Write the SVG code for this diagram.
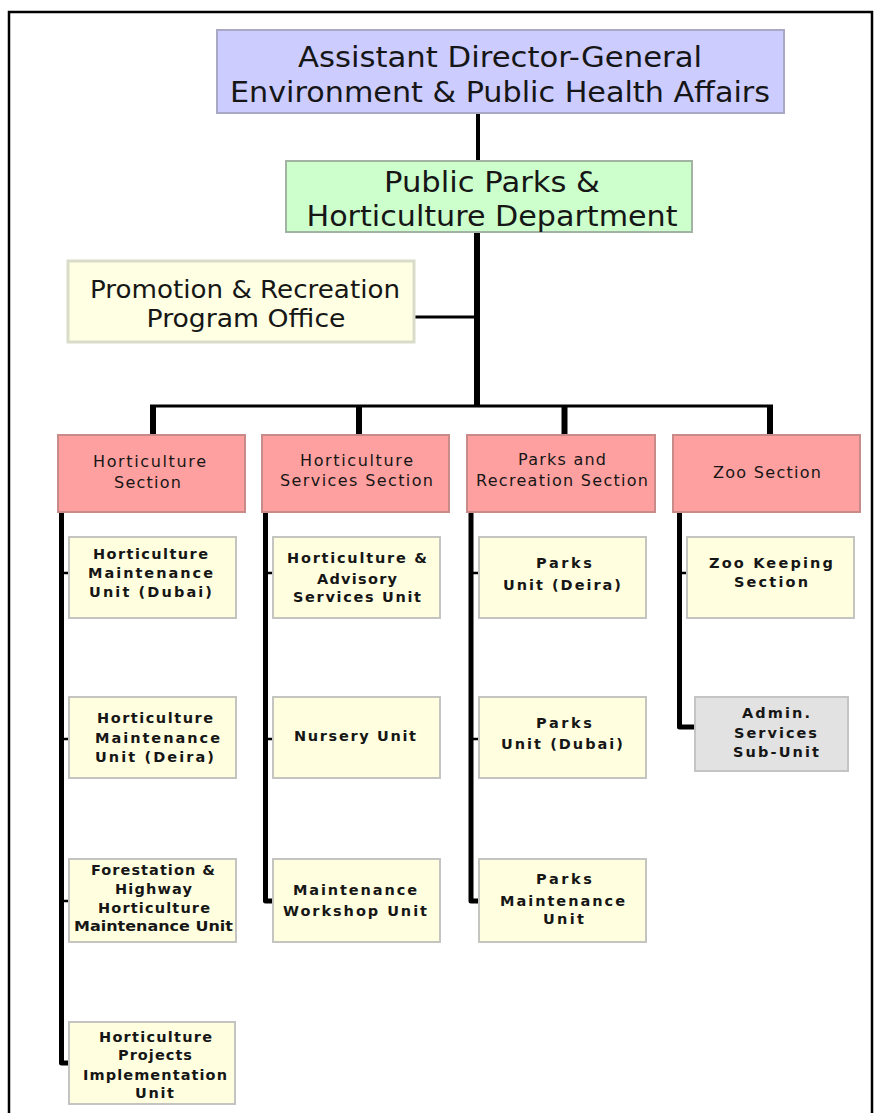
<svg xmlns="http://www.w3.org/2000/svg" width="875" height="1113" viewBox="0 0 875 1113">
<style>
text{font-family:"DejaVu Sans","Liberation Sans",sans-serif;fill:#161616;text-anchor:middle}
.big{font-size:29px}
.mid{font-size:25px}
.sec{font-size:16px}
.unit{font-size:14.5px;font-weight:bold}
.blue{fill:#ccccff;stroke:#a9a9c6;stroke-width:2}
.green{fill:#ccffcc;stroke:#a3b3a3;stroke-width:2}
.prom{fill:#ffffe3;stroke:#d9dcc8;stroke-width:3}
.pink{fill:#ffa0a0;stroke:#c98a8a;stroke-width:2}
.yel{fill:#ffffe0;stroke:#c4c4c0;stroke-width:2}
.gray{fill:#e2e2e2;stroke:#c4c4c4;stroke-width:2}
.ln{fill:none;stroke:#000;stroke-linejoin:round}
</style>
<rect x="9" y="12" width="863" height="1120" fill="#fff" stroke="#000" stroke-width="2.5"/>
<g id="connectors">
<line class="ln" x1="478" y1="112" x2="478" y2="161" stroke-width="4"/>
<line class="ln" x1="477" y1="232" x2="477" y2="407" stroke-width="6"/>
<line class="ln" x1="414" y1="317" x2="477" y2="317" stroke-width="3"/>
<line class="ln" x1="150" y1="406" x2="773" y2="406" stroke-width="3"/>
<line class="ln" x1="153" y1="406" x2="153" y2="435" stroke-width="6"/>
<line class="ln" x1="359" y1="406" x2="359" y2="435" stroke-width="6"/>
<line class="ln" x1="564.5" y1="406" x2="564.5" y2="435" stroke-width="6"/>
<line class="ln" x1="770" y1="406" x2="770" y2="435" stroke-width="6"/>
<path class="ln" d="M61.5 512 V1063 H70" stroke-width="5"/>
<path class="ln" d="M265.5 512 V901 H273" stroke-width="5"/>
<path class="ln" d="M471 512 V901 H479" stroke-width="5"/>
<path class="ln" d="M679.5 512 V727 H695" stroke-width="5"/>
<path class="ln" d="M61.5 573 H69 M61.5 739 H69 M61.5 901 H69 M265.5 573 H273 M265.5 739 H273 M471 573 H479 M471 739 H479 M679.5 573 H687" stroke-width="2.5"/>
</g>
<g id="adg">
<rect class="blue" x="217" y="30" width="567" height="83"/>
<text class="big" x="500" y="67" textLength="404" lengthAdjust="spacingAndGlyphs">Assistant Director-General</text>
<text class="big" x="500" y="102" textLength="540" lengthAdjust="spacingAndGlyphs">Environment &amp; Public Health Affairs</text>
</g>
<g id="dept">
<rect class="green" x="286" y="161" width="406" height="71"/>
<text class="big" x="492" y="192" textLength="216" lengthAdjust="spacingAndGlyphs">Public Parks &amp;</text>
<text class="big" x="492" y="226" textLength="371" lengthAdjust="spacingAndGlyphs">Horticulture Department</text>
</g>
<g id="promo">
<rect class="prom" x="68" y="261" width="346" height="81"/>
<text class="mid" x="245" y="298" textLength="310" lengthAdjust="spacingAndGlyphs">Promotion &amp; Recreation</text>
<text class="mid" x="246" y="327" textLength="199" lengthAdjust="spacingAndGlyphs">Program Office</text>
</g>
<g id="sec-hort">
<rect class="pink" x="58" y="435" width="187" height="77"/>
<text class="sec" x="149.5" y="467" textLength="113">Horticulture</text>
<text class="sec" x="147.5" y="488" textLength="67">Section</text>
</g>
<g id="sec-hortserv">
<rect class="pink" x="262" y="435" width="187" height="77"/>
<text class="sec" x="356.5" y="466" textLength="113">Horticulture</text>
<text class="sec" x="356.5" y="486" textLength="153">Services Section</text>
</g>
<g id="sec-parks">
<rect class="pink" x="467" y="435" width="188" height="77"/>
<text class="sec" x="562" y="465" textLength="88">Parks and</text>
<text class="sec" x="562" y="486" textLength="172">Recreation Section</text>
</g>
<g id="sec-zoo">
<rect class="pink" x="673" y="435" width="187" height="77"/>
<text class="sec" x="767" y="478" textLength="108">Zoo Section</text>
</g>
<g id="u-hmu-dubai">
<rect class="yel" x="69" y="537" width="167" height="81"/>
<text class="unit" x="150.5" y="559" textLength="115">Horticulture</text>
<text class="unit" x="150.5" y="578" textLength="125">Maintenance</text>
<text class="unit" x="150.5" y="597" textLength="123">Unit (Dubai)</text>
</g>
<g id="u-hmu-deira">
<rect class="yel" x="69" y="697" width="167" height="81"/>
<text class="unit" x="155" y="723" textLength="116">Horticulture</text>
<text class="unit" x="157.5" y="743" textLength="125">Maintenance</text>
<text class="unit" x="154.5" y="762" textLength="119">Unit (Deira)</text>
</g>
<g id="u-forest">
<rect class="yel" x="69" y="859" width="167" height="83"/>
<text class="unit" x="153" y="875" textLength="124">Forestation &amp;</text>
<text class="unit" x="153.5" y="894" textLength="77">Highway</text>
<text class="unit" x="154" y="913" textLength="112">Horticulture</text>
<text class="unit" x="153.5" y="931" textLength="159" lengthAdjust="spacingAndGlyphs">Maintenance Unit</text>
</g>
<g id="u-projects">
<rect class="yel" x="69" y="1022" width="166" height="82"/>
<text class="unit" x="155.5" y="1042" textLength="113">Horticulture</text>
<text class="unit" x="155" y="1060" textLength="74">Projects</text>
<text class="unit" x="155" y="1080" textLength="144">Implementation</text>
<text class="unit" x="154.5" y="1098" textLength="39">Unit</text>
</g>
<g id="u-advisory">
<rect class="yel" x="273" y="537" width="167" height="81"/>
<text class="unit" x="357" y="563" textLength="140">Horticulture &amp;</text>
<text class="unit" x="357" y="584" textLength="80">Advisory</text>
<text class="unit" x="357" y="602" textLength="128">Services Unit</text>
</g>
<g id="u-nursery">
<rect class="yel" x="273" y="697" width="167" height="81"/>
<text class="unit" x="355" y="741" textLength="122">Nursery Unit</text>
</g>
<g id="u-workshop">
<rect class="yel" x="273" y="859" width="167" height="83"/>
<text class="unit" x="355" y="895" textLength="124">Maintenance</text>
<text class="unit" x="355" y="916" textLength="144">Workshop Unit</text>
</g>
<g id="u-parks-deira">
<rect class="yel" x="479" y="537" width="167" height="81"/>
<text class="unit" x="564" y="568" textLength="56">Parks</text>
<text class="unit" x="562" y="590" textLength="118">Unit (Deira)</text>
</g>
<g id="u-parks-dubai">
<rect class="yel" x="479" y="697" width="167" height="81"/>
<text class="unit" x="564" y="728" textLength="56">Parks</text>
<text class="unit" x="562" y="749" textLength="122">Unit (Dubai)</text>
</g>
<g id="u-parks-maint">
<rect class="yel" x="479" y="859" width="167" height="83"/>
<text class="unit" x="564" y="884" textLength="56">Parks</text>
<text class="unit" x="562.5" y="906" textLength="125">Maintenance</text>
<text class="unit" x="563.5" y="924" textLength="41">Unit</text>
</g>
<g id="u-zookeeping">
<rect class="yel" x="687" y="537" width="167" height="81"/>
<text class="unit" x="771" y="568" textLength="124">Zoo Keeping</text>
<text class="unit" x="771" y="587" textLength="74">Section</text>
</g>
<g id="u-admin">
<rect class="gray" x="695" y="697" width="153" height="74"/>
<text class="unit" x="776" y="718" textLength="68">Admin.</text>
<text class="unit" x="775.5" y="738" textLength="83">Services</text>
<text class="unit" x="776" y="757" textLength="86">Sub-Unit</text>
</g>
</svg>
